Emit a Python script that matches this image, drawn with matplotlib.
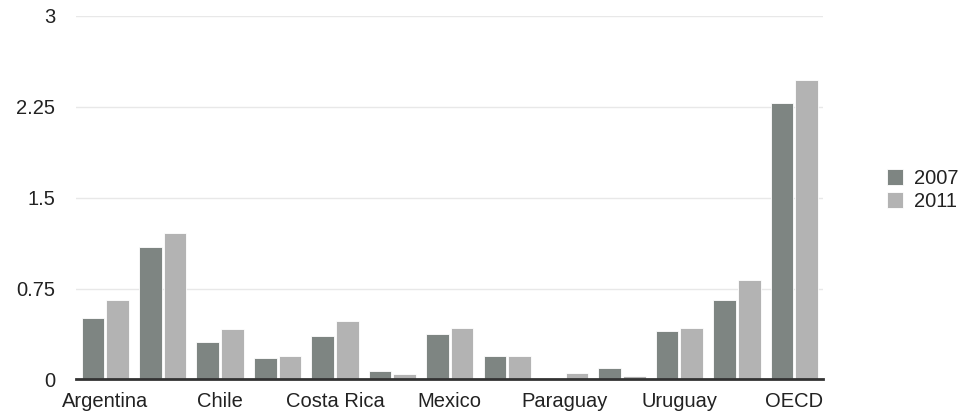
import numpy as np
import matplotlib
matplotlib.use('Agg')
import matplotlib.pyplot as plt

plt.rcParams['font.family'] = ['Liberation Sans', 'DejaVu Sans']

# countries (only every other label is printed in the original)
countries = ['Argentina', 'Brazil', 'Chile', 'Colombia', 'Costa Rica', 'Guatemala',
             'Mexico', 'Panama', 'Paraguay', 'Peru', 'Uruguay', 'Latin America', 'OECD']
val_2007 = [0.51, 1.09, 0.31, 0.175, 0.36, 0.07, 0.375, 0.197, 0.0, 0.093, 0.397, 0.652, 2.28]
val_2011 = [0.655, 1.21, 0.417, 0.19, 0.482, 0.047, 0.424, 0.197, 0.055, 0.027, 0.424, 0.822, 2.47]
yticks = [0, 0.75, 1.5, 2.25, 3]
ytick_labels = ['0', '0.75', '1.5', '2.25', '3']

c2007 = '#7e8582'
c2011 = '#b3b3b3'

fig = plt.figure(figsize=(9.71, 4.12), dpi=100)
ax = fig.add_axes([0.0783, 0.0789, 0.7693, 0.8823])

x = np.arange(len(countries))
w = 0.395
off = 0.215
ax.bar(x - off, val_2007, w, color=c2007, edgecolor='white', linewidth=0.6, label='2007', zorder=2)
ax.bar(x + off, val_2011, w, color=c2011, edgecolor='white', linewidth=0.6, label='2011', zorder=2)

ax.set_xlim(-0.51, len(countries) - 0.5)
ax.set_ylim(0, 3)
ax.set_yticks(yticks, ytick_labels)
ax.set_xticks(x[::2], countries[::2])
ax.grid(axis='y', color='#e8e8e8', linewidth=1, zorder=0)
ax.set_axisbelow(True)

for s in ['top', 'right', 'left']:
    ax.spines[s].set_visible(False)
ax.spines['bottom'].set_color('#333333')
ax.spines['bottom'].set_linewidth(2)
ax.spines['bottom'].set_zorder(3)

ax.tick_params(axis='both', length=0, labelsize=14.5, labelcolor='#222222')
ax.tick_params(axis='y', pad=15)
ax.tick_params(axis='x', pad=9)

fig.legend(loc='center left', bbox_to_anchor=(0.903, 0.539), frameon=False,
           fontsize=14.5, handlelength=0.82, handleheight=0.82, handletextpad=0.55,
           labelspacing=0.22, borderpad=0, labelcolor='#222222')

fig.savefig('out.png', dpi=100)
